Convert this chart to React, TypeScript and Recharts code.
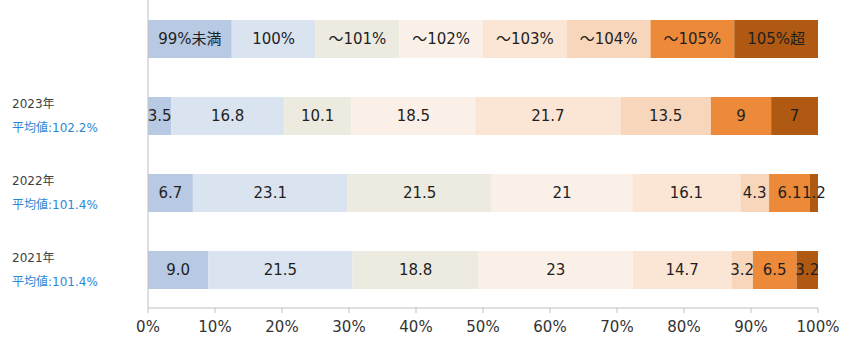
import React from "react";
import { BarChart, Bar, XAxis, YAxis, LabelList } from "recharts";

// rows from top: legend row, then years
const years = ["", "2023年", "2022年", "2021年"];
const averages = ["", "平均値:102.2%", "平均値:101.4%", "平均値:101.4%"];
const seriesNames = ["99%未満", "100%", "～101%", "～102%", "～103%", "～104%", "～105%", "105%超"];

const legendRow = [12.5, 12.5, 12.5, 12.5, 12.5, 12.5, 12.5, 12.5];
const v2023 = [3.5, 16.8, 10.1, 18.5, 21.7, 13.5, 9, 7];
const v2022 = [6.7, 23.1, 21.5, 21, 16.1, 4.3, 6.1, 1.2];
const v2021 = [9.0, 21.5, 18.8, 23, 14.7, 3.2, 6.5, 3.2];
const l2021 = ["9.0", "21.5", "18.8", "23", "14.7", "3.2", "6.5", "3.2"];

const xTicks = [0, 0.1, 0.2, 0.3, 0.4, 0.5, 0.6, 0.7, 0.8, 0.9, 1];

const colors = ["#b8cae3", "#dae3f0", "#edebe0", "#fbf0e7", "#fbe5d5", "#f8d6bc", "#ec8a3a", "#b05912"];
const FONT = "'DejaVu Sans', 'Noto Sans CJK JP', sans-serif";

const valueRows = [legendRow, v2023, v2022, v2021];
const labelRows = [seriesNames, v2023.map(String), v2022.map(String), l2021];

const data = years.map((y, i) => {
  const row: any = { name: y, avg: averages[i] };
  valueRows[i].forEach((v, k) => {
    row["s" + k] = v;
    row["l" + k] = labelRows[i][k];
  });
  return row;
});

function YTick(props: any) {
  const { y, payload, index } = props;
  if (!payload.value) return null;
  return (
    <g>
      <text x={12} y={y - 12} dy="0.35em" fontSize={12} fill="#404040" fontFamily={FONT}>
        {payload.value}
      </text>
      <text x={12} y={y + 12} dy="0.35em" fontSize={12} fill="#2e86d6" fontFamily={FONT}>
        {averages[index]}
      </text>
    </g>
  );
}

export default function App() {
  return (
    <div style={{ position: "absolute", left: 0, top: 0, background: "#fff" }}>
      <BarChart
        width={850}
        height={340}
        data={data}
        layout="vertical"
        stackOffset="expand"
        margin={{ top: 0, right: 32, bottom: 0, left: 0 }}
        barSize={38}
      >
        <XAxis
          type="number"
          domain={[0, 1]}
          ticks={xTicks}
          tickFormatter={(v: number) => Math.round(v * 100) + "%"}
          axisLine={{ stroke: "#bfbfbf" }}
          tickLine={{ stroke: "#bfbfbf" }}
          tickSize={5}
          tickMargin={8}
          tick={{ fontSize: 15, fill: "#333", fontFamily: FONT }}
          height={32}
        />
        <YAxis
          type="category"
          dataKey="name"
          width={148}
          axisLine={{ stroke: "#bfbfbf" }}
          tickLine={false}
          tick={<YTick />}
          interval={0}
        />
        {seriesNames.map((n, k) => (
          <Bar key={n} dataKey={"s" + k} stackId="a" fill={colors[k]} isAnimationActive={false}>
            <LabelList
              dataKey={"l" + k}
              position="center"
              fontSize={15}
              fill="#1f1f1f"
              fontFamily={FONT}
            />
          </Bar>
        ))}
      </BarChart>
    </div>
  );
}
